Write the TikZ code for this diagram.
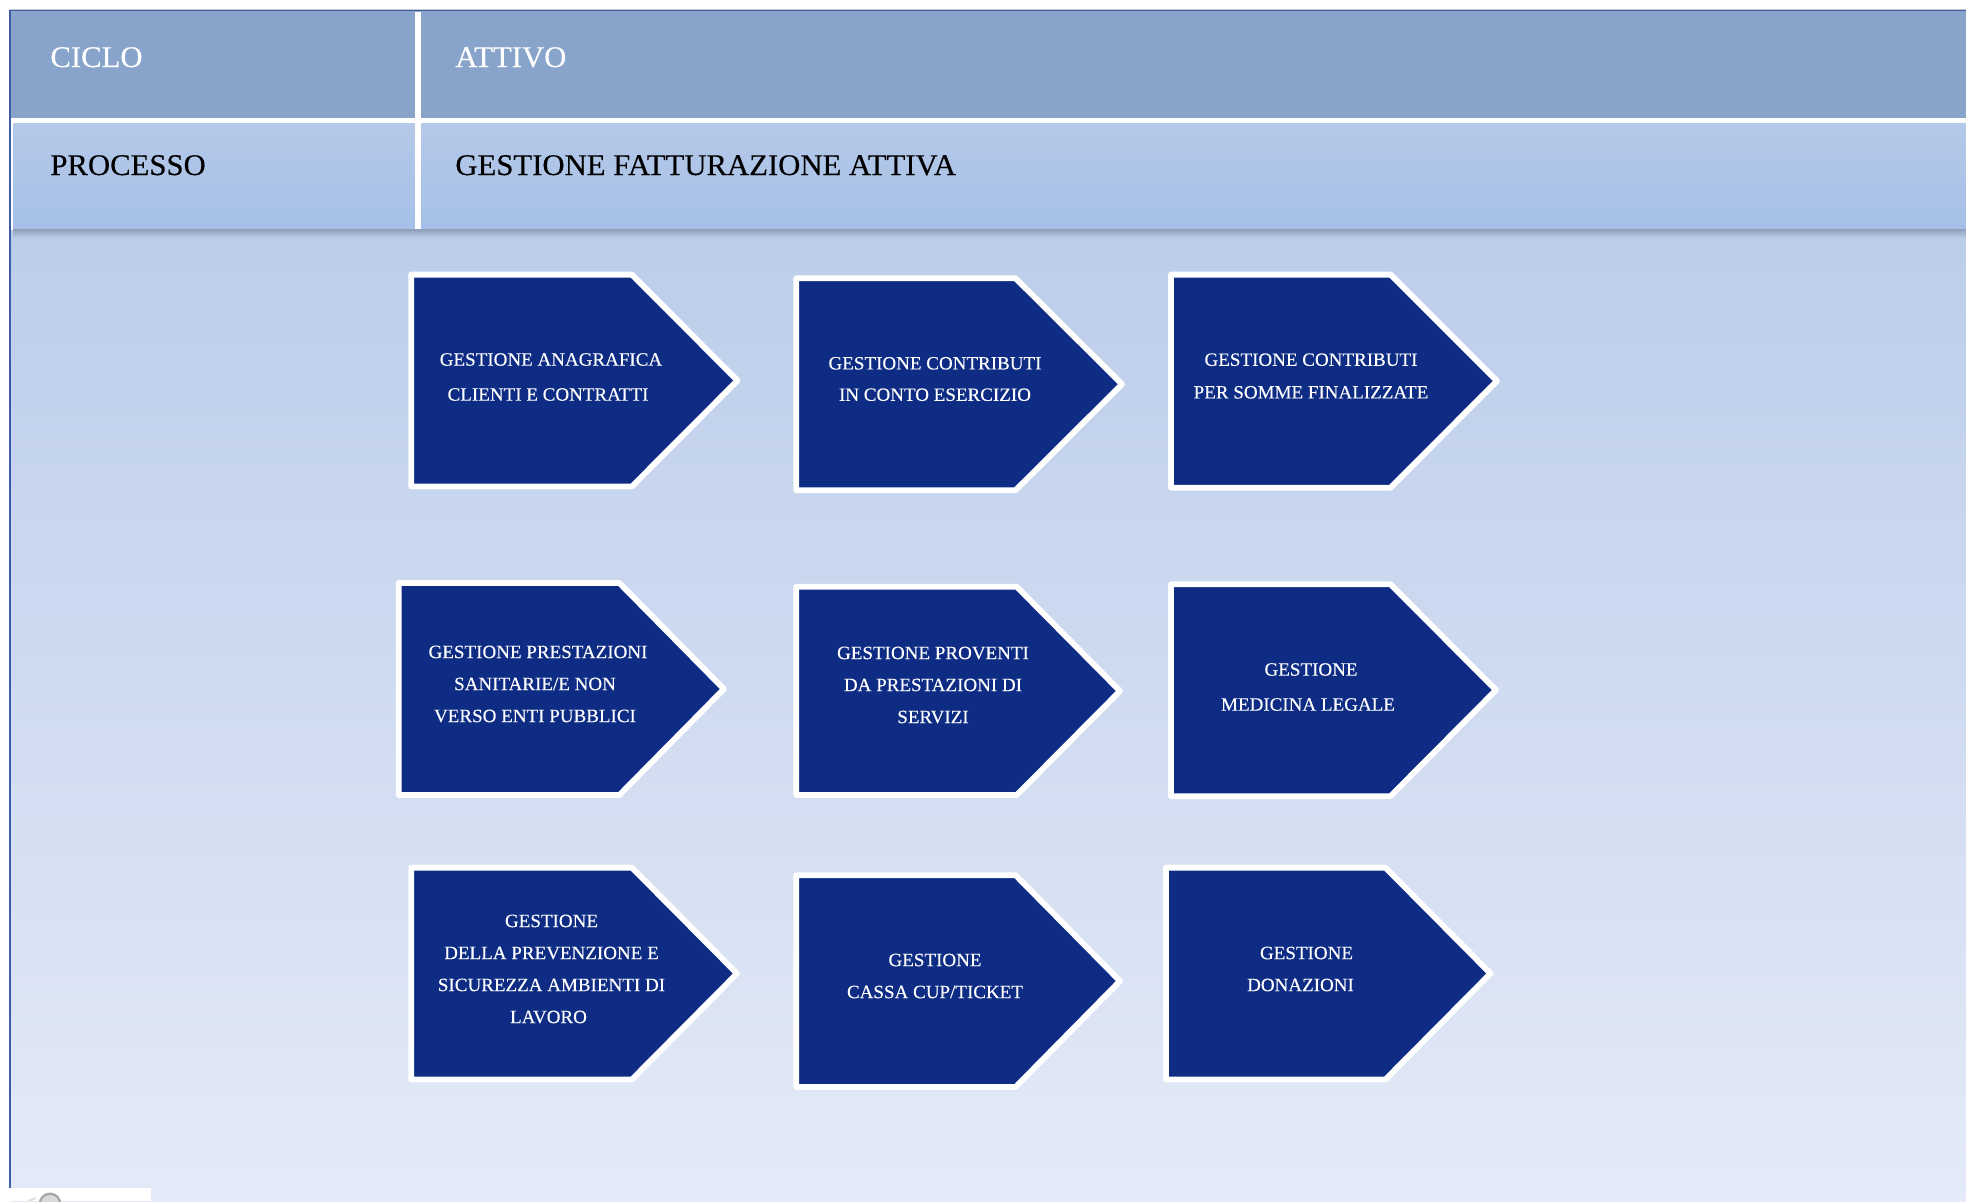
\documentclass[tikz,border=0pt]{standalone}
\usepackage{fontspec}
\setmainfont[FakeBold=0.25,FakeStretch=1.012]{Liberation Serif}
\newfontfamily\headfont[FakeBold=0.35,FakeStretch=1.024]{Liberation Serif}
\definecolor{edgeblue}{HTML}{3F5CAB}
\definecolor{headdark}{HTML}{89A4CB}
\definecolor{headlightA}{HTML}{B5C9E8}
\definecolor{headlightB}{HTML}{A6C0E9}
\definecolor{bgtop}{HTML}{BCCDEA}
\definecolor{bgbot}{HTML}{E4EAF7}
\definecolor{navy}{HTML}{0E2C84}
\tikzset{
  x=0.5pt,y=-0.5pt,
  penta/.style={fill=navy,draw=white,line width=2.9pt,line join=round},
  headw/.style={anchor=base west,inner sep=0pt,text=white,font=\headfont\fontsize{15}{18}\selectfont},
  headk/.style={anchor=base west,inner sep=0pt,text=black,font=\headfont\fontsize{15}{18}\selectfont},
  lab/.style={inner sep=0pt,text=white,align=center},
}
\newcommand{\fs}[1]{\fontsize{9.4}{#1}\selectfont}
\begin{document}
\begin{tikzpicture}
\useasboundingbox (0,0) rectangle (1966,1201);
\fill[white] (0,0) rectangle (1966,1201);
% page background
\shade[top color=bgtop,bottom color=bgbot] (10,230) rectangle (1966,1201);
% top row
\fill[headdark] (10,10) rectangle (1966,118);
% second row
\shade[top color=headlightA,bottom color=headlightB] (13,123) rectangle (1966,229);
% shadow under the header
\shade[top color=black!10!headlightB!70!gray,bottom color=bgtop] (13,229) rectangle (1966,238);
\fill[white] (415,12) rectangle (421,229);
% frame
\fill[edgeblue] (9,10) rectangle (1966,11.2);
\fill[edgeblue] (9,10) rectangle (11,1188);
\fill[black!20] (9,9) rectangle (1966,10);
% header text
\node[headw] (ciclo) at (50,67) {CICLO};
\node[headw] (attivo) at (455,67) {ATTIVO};
\node[headk] (processo) at (50,175) {PROCESSO};
\node[headk] (gestfat) at (455,175) {GESTIONE FATTURAZIONE ATTIVA};
% row 1
\draw[penta] (411.2,274.6) -- (631.9,274.6) -- (737.5,380.5) -- (631.9,486.5) -- (411.2,486.5) -- cycle;
\node[lab,font=\fs{17.5}] (b1) at (551,377) {GESTIONE ANAGRAFICA\\CLIENTI E CONTRATTI\hspace*{3pt}};
\draw[penta] (796.2,278.3) -- (1015.6,278.3) -- (1122,384.2) -- (1015.6,490.2) -- (796.2,490.2) -- cycle;
\node[lab,font=\fs{15.7}] (b2) at (935,379) {GESTIONE CONTRIBUTI\\IN CONTO ESERCIZIO};
\draw[penta] (1171,274.6) -- (1390.5,274.6) -- (1497,381) -- (1390.5,487.7) -- (1171,487.7) -- cycle;
\node[lab,font=\fs{16.3}] (b3) at (1311,376) {GESTIONE CONTRIBUTI\\PER SOMME FINALIZZATE};
% row 2
\draw[penta] (398.7,583) -- (619.4,583) -- (723.9,689) -- (619.4,795) -- (398.7,795) -- cycle;
\node[lab,font=\fs{16}] (b4) at (535,684) {GESTIONE PRESTAZIONI\hspace*{-3pt}\\SANITARIE/E NON\\VERSO ENTI PUBBLICI};
\draw[penta] (796.2,586.8) -- (1016.8,586.8) -- (1120,691) -- (1016.8,795) -- (796.2,795) -- cycle;
\node[lab,font=\fs{16}] (b5) at (933,685) {GESTIONE PROVENTI\\DA PRESTAZIONI DI\\SERVIZI};
\draw[penta] (1171,584.3) -- (1390.5,584.3) -- (1496,690) -- (1390.5,796.2) -- (1171,796.2) -- cycle;
\node[lab,font=\fs{17.5}] (b6) at (1308,687) {GESTIONE\hspace*{-3pt}\\MEDICINA LEGALE};
% row 3
\draw[penta] (411.2,867.6) -- (631.9,867.6) -- (737,973.5) -- (631.9,1079.5) -- (411.2,1079.5) -- cycle;
\node[lab,font=\fs{16}] (b7) at (551.5,969) {GESTIONE\\DELLA PREVENZIONE E\\SICUREZZA AMBIENTI DI\hspace*{3pt}\\LAVORO\hspace*{3pt}};
\draw[penta] (796.2,875.2) -- (1015.6,875.2) -- (1120,981) -- (1015.6,1087) -- (796.2,1087) -- cycle;
\node[lab,font=\fs{16}] (b8) at (935,976) {GESTIONE\\CASSA CUP/TICKET};
\draw[penta] (1166,867.6) -- (1385.4,867.6) -- (1490.5,973.5) -- (1385.4,1079.5) -- (1166,1079.5) -- cycle;
\node[lab,font=\fs{16}] (b9) at (1303.5,969) {GESTIONE\hspace*{-3pt}\\DONAZIONI\hspace*{3pt}};
% cropped logo at the bottom left
\fill[white] (9,1188) rectangle (151,1201);
\begin{scope}
\clip (9,1188) rectangle (151,1201);
\draw[black!35,line width=1.4pt] (50,1204) circle[radius=10];
\fill[black!15] (50,1204) circle[radius=9];
\draw[black!12,line width=1pt] (28,1201) -- (36,1198);
\end{scope}
\end{tikzpicture}
\end{document}
